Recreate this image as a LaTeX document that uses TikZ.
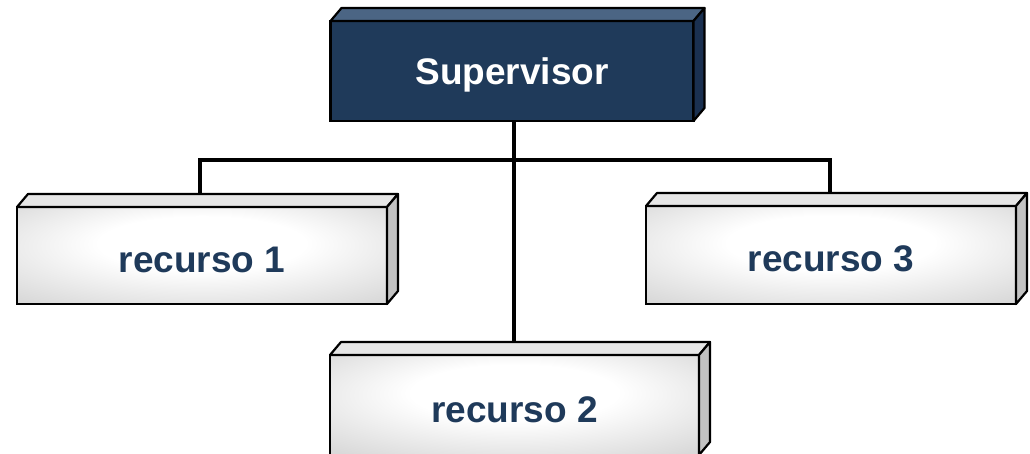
\documentclass[tikz,border=0pt]{standalone}
\usepackage{fontspec}
\setmainfont{Liberation Sans}
\usetikzlibrary{calc,backgrounds}

\definecolor{navy}{HTML}{1F3A5A}
\definecolor{navytop}{HTML}{4B6584}
\definecolor{navyside}{HTML}{1A3050}
\definecolor{boxtop}{HTML}{E6E6E6}
\definecolor{boxside}{HTML}{C2C2C2}
\definecolor{shadowcol}{HTML}{7D8AA0}

% soft face shading: white near the upper middle, light grey towards the rim
\pgfdeclareradialshading{faceshade}{\pgfpoint{0bp}{8bp}}{%
  color(0bp)=(white); color(14bp)=(white); color(36bp)=(black!15); color(60bp)=(black!15)}

\tikzset{
  blockbase/.style={rectangle, draw=black, line width=2.2pt, outer sep=0pt,
    inner sep=0pt, font=\fontsize{37}{40}\selectfont\bfseries},
  headbox/.style={blockbase, fill=navy, text=white, text height=27pt, text depth=0pt},
  itembox/.style={blockbase, shading=faceshade, text=navy, text height=34pt, text depth=0pt},
  link/.style={draw=black, line width=4.5pt},
  facepath/.style={draw=black, line width=2.2pt, line join=round},
}

% depth of the raised faces (right, up)
\newcommand{\dpx}{11}
\newcommand{\dpy}{-13}

% top and right faces of a block
\newcommand{\blockfaces}[3]{%
  \path[facepath, fill=#2] (#1.north west) -- ++(\dpx,\dpy)
     -- ($(#1.north east)+(\dpx,\dpy)$) -- (#1.north east) -- cycle;
  \path[facepath, fill=#3] (#1.north east) -- ++(\dpx,\dpy)
     -- ($(#1.south east)+(\dpx,\dpy)$) -- (#1.south east) -- cycle;
}
% soft shadow under a block
\newcommand{\blockshadow}[1]{%
  \foreach \s/\o in {5/0.12,3.5/0.18,2/0.25}{
    \fill[shadowcol, opacity=\o, shift={(\s,\s)}]
      (#1.north west) -- ++(\dpx,\dpy) -- ($(#1.north east)+(\dpx,\dpy)$)
      -- ($(#1.south east)+(\dpx,\dpy)$) -- (#1.south east) -- (#1.south west) -- cycle;
  }
}

\begin{document}
\begin{tikzpicture}[x=1pt, y=-1pt]
  \useasboundingbox (0,0) rectangle (1030,454);

  \node[headbox, minimum width=363pt, minimum height=100pt] (sup) at (512,71) {Supervisor};
  \node[itembox, minimum width=370pt, minimum height=97pt] (r1) at (202,255.5) {recurso 1};
  \node[itembox, minimum width=370pt, minimum height=98pt] (r3) at (831,255) {recurso 3};
  \node[itembox, minimum width=369pt, minimum height=100pt] (r2) at (514.5,405) {recurso 2};

  \begin{scope}[on background layer]
    \blockshadow{sup}
    \blockshadow{r1}
    \blockshadow{r2}
    \blockshadow{r3}
    \coordinate (stem) at ($(sup.south)+(2,0)$);
    \coordinate (bar) at ($(stem)+(0,39)$);
    \draw[link] (stem) -- (stem |- r2.north);
    \draw[link] (bar) -| ($(r1.north)+(-2,0)$);
    \draw[link] (bar) -| ($(r3.north)+(-1,0)$);
  \end{scope}

  \blockfaces{sup}{navytop}{navyside}
  \blockfaces{r1}{boxtop}{boxside}
  \blockfaces{r2}{boxtop}{boxside}
  \blockfaces{r3}{boxtop}{boxside}
\end{tikzpicture}
\end{document}
